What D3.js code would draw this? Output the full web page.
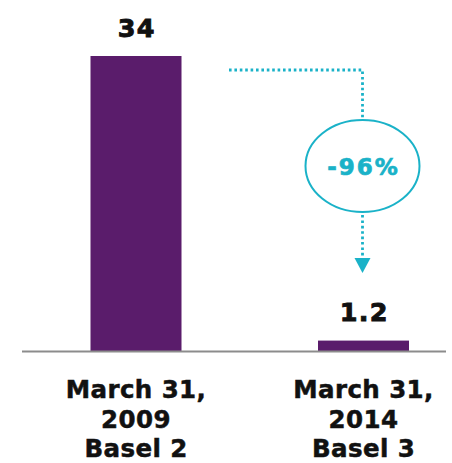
<!DOCTYPE html>
<html>
<head>
<meta charset="utf-8">
<script src="https://cdn.jsdelivr.net/npm/d3@7"></script>
<style>
  body { margin: 0; background: #fff; }
  svg text { font-family: "DejaVu Sans", Verdana, sans-serif; font-weight: bold; }
</style>
</head>
<body>
<svg id="chart" width="452" height="463"></svg>
<script>
// data
const categories = ['March 31,\n2009\nBasel 2', 'March 31,\n2014\nBasel 3']
const values = [34, 1.2]
const valueLabels = ['34', '1.2']
const changeLabel = '-96%'

const baseline = 351
const purple = '#5a1c6b'
const teal = '#1ab2c8'
const bw = 91

const svg = d3.select('#chart')

const x = d3.scalePoint()
  .domain(categories)
  .range([136, 363.5])

const y = d3.scaleLinear()
  .domain([0, 34])
  .range([baseline, 56])

// bars
svg.selectAll('rect.bar').data(categories).join('rect')
  .attr('class', 'bar')
  .attr('x', d => x(d) - bw / 2)
  .attr('y', (d, i) => y(values[i]))
  .attr('width', bw)
  .attr('height', (d, i) => y(0) - y(values[i]))
  .attr('fill', purple)

// axis line
svg.append('line')
  .attr('x1', 22).attr('x2', 446)
  .attr('y1', y(0) + 0.5).attr('y2', y(0) + 0.5)
  .attr('stroke', '#8c8c8c').attr('stroke-width', 2)

// value labels
svg.selectAll('text.val').data(categories).join('text')
  .attr('class', 'val')
  .attr('x', d => x(d) + 0.7)
  .attr('y', (d, i) => y(values[i]) - 19.5)
  .attr('text-anchor', 'middle')
  .attr('font-size', 25.5)
  .attr('letter-spacing', 1.2)
  .attr('fill', '#111')
  .attr('stroke', '#111').attr('stroke-width', 0.9)
  .text((d, i) => valueLabels[i])

// category labels
svg.selectAll('text.cat').data(categories).join('text')
  .attr('class', 'cat')
  .attr('text-anchor', 'middle')
  .attr('font-size', 24.5)
  .attr('letter-spacing', 0.4)
  .attr('fill', '#111')
  .attr('stroke', '#111').attr('stroke-width', 0.5)
  .each(function (d) {
    d3.select(this).selectAll('tspan').data(d.split('\n')).join('tspan')
      .attr('x', x(d))
      .attr('y', (t, i) => 398 + i * 29.5)
      .text(t => t)
  })

// change annotation
const x0 = 229
const x1 = x(categories[1]) - 1
const yTop = y(values[0]) + 14
const ell = {cx: x1, cy: 166, rx: 57, ry: 46}
const arrowTip = 273

const dotted = path => svg.append('path')
  .attr('d', path)
  .attr('fill', 'none')
  .attr('stroke', teal)
  .attr('stroke-width', 2.8)
  .attr('stroke-dasharray', '2.6,2.8')

dotted(`M${x0},${yTop} H${x1} V${ell.cy - ell.ry}`)
dotted(`M${x1},${ell.cy + ell.ry + 3} V${arrowTip - 14}`)

svg.append('path')
  .attr('d', `M${x1 - 8},${arrowTip - 15} L${x1 + 8},${arrowTip - 15} L${x1},${arrowTip} Z`)
  .attr('fill', teal)

svg.append('ellipse')
  .attr('cx', ell.cx).attr('cy', ell.cy)
  .attr('rx', ell.rx).attr('ry', ell.ry)
  .attr('fill', '#fff')
  .attr('stroke', teal)
  .attr('stroke-width', 2)

svg.append('text')
  .attr('x', ell.cx + 1).attr('y', ell.cy + 8.5)
  .attr('text-anchor', 'middle')
  .attr('font-size', 23)
  .attr('letter-spacing', 2)
  .attr('fill', teal)
  .attr('stroke', teal).attr('stroke-width', 0.7)
  .text(changeLabel)
</script>
</body>
</html>
